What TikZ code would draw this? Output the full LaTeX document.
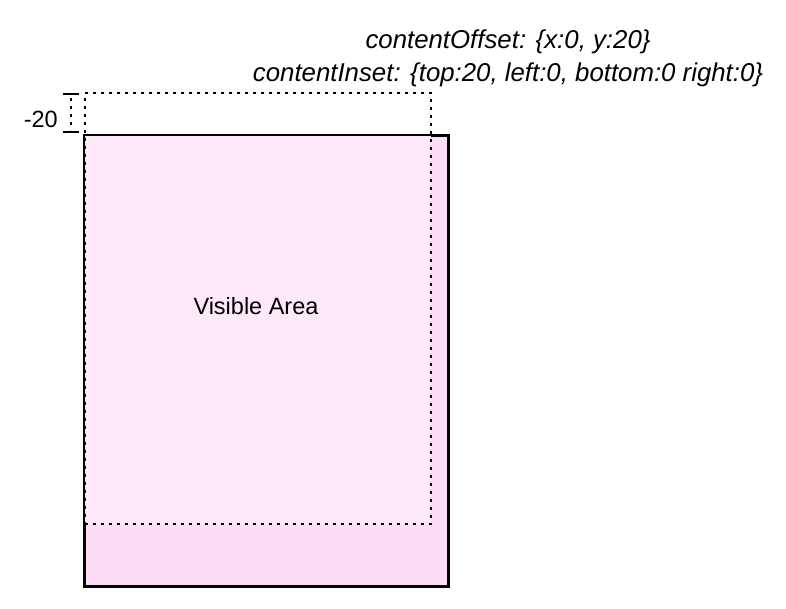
\documentclass[tikz,border=0pt]{standalone}
\usepackage{fontspec}
\setmainfont{Liberation Sans}
\definecolor{outerpink}{HTML}{FDDDF6}
\definecolor{innerpink}{HTML}{FEE9F8}
\begin{document}
\begin{tikzpicture}[x=1pt,y=-1pt,
  lbl/.style={font=\fontsize{23.5}{28}\selectfont, text=black, inner sep=0pt, anchor=base},
  ilbl/.style={lbl, font=\fontsize{25.8}{30}\selectfont\itshape},
  visbox/.style={draw=black, line width=2pt, fill=outerpink, inner sep=0pt, minimum width=363pt, minimum height=450pt},
  dotbox/.style={draw=black, line width=2.2pt, dash pattern=on 3pt off 5pt, inner sep=0pt, minimum width=346pt, minimum height=431pt},
  tick/.style={line width=2pt},
  dotline/.style={line width=2.2pt, dash pattern=on 3pt off 5pt}]
\useasboundingbox (0,0) rectangle (786,608);
\node[visbox] (vis) at (266.5,361) {};
\node[inner sep=0pt, minimum width=346pt, minimum height=431pt] (dots) at (258,308.5) {};
\fill[innerpink] (vis.north west) ++(1pt,-1pt) rectangle (dots.south east);
\draw[line width=2pt] (vis.north west) rectangle (vis.south east);
\node[dotbox] at (dots.center) {};
\node[lbl] (va) at (256,314) {Visible Area};
\node[ilbl] (off) at (508,48) {contentOffset: \{x:0, y:20\}};
\node[ilbl] (ins) at (508,81) {contentInset: \{top:20, left:0, bottom:0 right:0\}};
\coordinate (t1a) at (63,94); \coordinate (t1b) at (79,94);
\coordinate (t2a) at (63,132); \coordinate (t2b) at (79,132);
\coordinate (m1) at (71,98); \coordinate (m2) at (71,130);
\draw[tick] (t1a) -- (t1b);
\draw[tick] (t2a) -- (t2b);
\draw[dotline] (m1) -- (m2);
\node[lbl, anchor=base east] (m20) at (58,127) {-20};
\end{tikzpicture}
\end{document}
